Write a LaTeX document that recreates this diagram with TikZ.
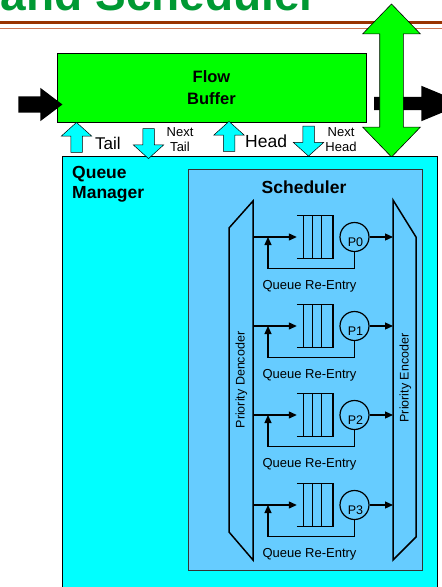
\documentclass[tikz,border=0pt]{standalone}
\usepackage{fontspec}
\setmainfont{Liberation Sans}
\usetikzlibrary{arrows.meta,shapes.arrows}
\definecolor{bufgreen}{RGB}{0,255,0}
\definecolor{qmcyan}{RGB}{0,255,255}
\definecolor{schedblue}{RGB}{102,204,255}
\definecolor{titlegreen}{RGB}{0,153,51}
\definecolor{rulebrown}{RGB}{153,51,0}
\definecolor{rulelight}{RGB}{204,119,85}

\begin{document}
\begin{tikzpicture}[x=1pt,y=-1pt,
  ptr/.style={single arrow,draw,fill=qmcyan,line width=0.5pt,minimum height=30pt,inner sep=5.5pt,single arrow head extend=9.5pt,single arrow tip angle=96},
  ptrup/.style={ptr,rotate=90},
  ptrdown/.style={ptr,rotate=-90},
  blackarrow/.style={single arrow,fill=black,inner sep=0pt},
  flow/.style={line width=1.2pt,-{Triangle[length=8pt,width=7pt]}},
  bigtext/.style={font=\fontsize{17.5}{20.5}\selectfont\bfseries},
  smalltext/.style={font=\fontsize{13}{15}\selectfont}]
\useasboundingbox (0,0) rectangle (442,587);
\clip (0,0) rectangle (442,587);
\node[anchor=base east,inner sep=0,text=titlegreen,font=\fontsize{46}{50}\selectfont\bfseries] (title) at (318,10.5) {and Scheduler};
\draw[rulebrown,line width=3.4pt] (0,22.3) -- (442,22.3);
\draw[rulelight,line width=1.3pt] (0,28.3) -- (442,28.3);
\node[draw,fill=bufgreen,line width=0.5pt,minimum width=309pt,minimum height=69pt,inner sep=0,align=center,
  font=\fontsize{16.5}{22.7}\selectfont\bfseries] (buffer) at (211.5,87.5) {Flow\\Buffer};
\node[blackarrow,minimum height=44pt,inner sep=8pt,single arrow head extend=8.5pt,single arrow tip angle=74] (inarrow) at (35,104.5) {};
\node[blackarrow,minimum height=90pt,inner sep=6.5pt,single arrow head extend=11pt,single arrow tip angle=45] (outarrow) at (411,103.5) {};
\node[double arrow,draw,fill=bufgreen,line width=0.6pt,rotate=90,minimum height=153pt,inner sep=11.5pt,double arrow head extend=17pt,double arrow tip angle=88] (memarrow) at (391.5,80.5) {};
\node[draw,fill=qmcyan,line width=0.6pt,minimum width=375pt,minimum height=444pt,anchor=north west,inner sep=0] (qm) at (62,156) {};
\node[ptrup] (tail) at (76.5,140) {};
\node[ptrdown] (nexttail) at (148.5,141) {};
\node[ptrup] (head) at (229,139) {};
\node[ptrdown] (nexthead) at (308.5,138.5) {};
\node[font=\fontsize{17}{20}\selectfont,anchor=west,inner sep=0] (taillabel) at (95,143) {Tail};
\node[smalltext,align=center,inner sep=0] (nexttaillabel) at (180,140) {Next\\Tail};
\node[font=\fontsize{17.5}{20}\selectfont,anchor=west,inner sep=0] (headlabel) at (245,141) {Head};
\node[smalltext,align=center,inner sep=0] (nextheadlabel) at (341,139.5) {Next\\Head};
\node[bigtext,align=left,anchor=north west,inner sep=0] (qmlabel) at (72,166) {Queue\\Manager};
\node[draw=black!80,fill=schedblue,line width=0.8pt,minimum width=234pt,minimum height=401pt,anchor=north west,inner sep=0] (sched) at (188,169) {};
\node[bigtext,anchor=base] (schedlabel) at (304,193) {Scheduler};
\draw[line width=1.5pt] (229,228) -- (253,201) -- (253,560) -- (229,532) -- cycle;
\draw[line width=1.5pt] (393,200) -- (416,237) -- (416,537) -- (393,560) -- cycle;
\node[font=\fontsize{12.5}{14}\selectfont,rotate=90] (declabel) at (241.5,380) {Priority Dencoder};
\node[font=\fontsize{12.5}{14}\selectfont,rotate=90] (enclabel) at (405.5,378) {Priority Encoder};
\foreach \n/\y in {0/237,1/326,2/415,3/505}{
  \coordinate (din\n) at (253,\y);
  \coordinate (eout\n) at (393,\y);
  \coordinate (loop\n) at (268,\y);
  \node[minimum width=36pt,minimum height=43pt,inner sep=0] (q\n) at (315,\y) {};
  \draw[line width=1pt] (q\n.north west) -- (q\n.north east) (q\n.south west) -- (q\n.south east);
  \foreach \dx in {7,16,25}
    \draw[line width=1pt] ([xshift=\dx pt]q\n.north west) -- ([xshift=\dx pt]q\n.south west);
  \draw[line width=2pt] (q\n.north east) -- (q\n.south east);
  \node[circle,draw,line width=1.2pt,minimum size=29pt,inner sep=0] (p\n) at (354.5,\y) {};
  \node[font=\fontsize{12.5}{14}\selectfont,inner sep=0] (plabel\n) at (355.5,\y+5) {P\n};
  \draw[flow] (din\n) -- (q\n.west);
  \draw[flow] (p\n.east) -- (eout\n);
  \draw[flow] (p\n.south) -- ++(0,16) -| (loop\n);
  \node[smalltext] (reentry\n) at (309.5,\y+49.5) {Queue Re-Entry};
}
\end{tikzpicture}
\end{document}
